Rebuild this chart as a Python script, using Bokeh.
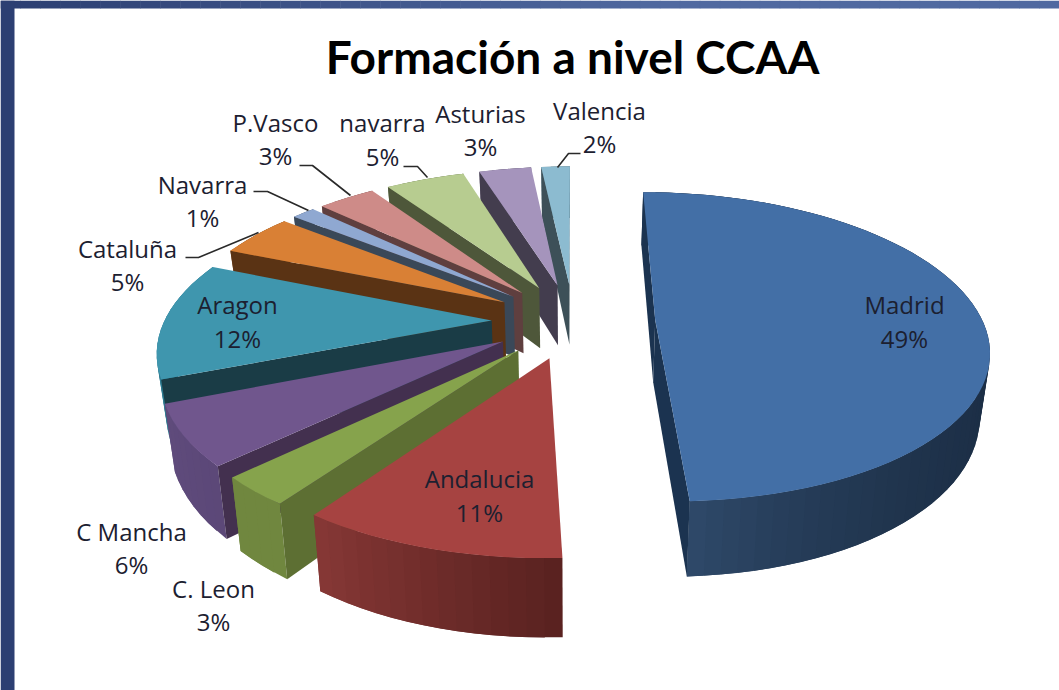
import math
from bokeh.plotting import figure
from bokeh.embed import file_html
from bokeh.resources import INLINE
from bokeh.core.properties import value

# ---- data -------------------------------------------------------------
categories = ["Madrid", "Andalucia", "C. Leon", "C Mancha", "Aragon", "Cataluña",
              "Navarra", "P.Vasco", "navarra", "Asturias", "Valencia"]
shares = [49.3, 10.5, 3.0, 6.2, 12.2, 4.5, 1.4, 3.4, 4.7, 3.1, 1.7]
pct_labels = ["49%", "11%", "3%", "6%", "12%", "5%", "1%", "3%", "5%", "3%", "2%"]
title_text = "Formación a nivel CCAA"

# ---- styles -----------------------------------------------------------
top_colors = ["#436FA6", "#A64341", "#86A34C", "#70568D", "#3F96AE", "#D98035",
              "#8FA8D1", "#CE8B88", "#B7CC90", "#A594BC", "#8CBBD0"]
side_colors = ["#1B3350", "#5F2523", "#5D6F33", "#43304F", "#1A3C46", "#5A3314",
               "#3A4858", "#5F3F3F", "#4E573A", "#433D4E", "#3D5058"]
wall_start = ["#1B2D44", "#5A2220", "#70873F", "#5C4878", "#2E7B90", "#8A5020",
              "#5A6A85", "#835856", "#74825A", "#685E78", "#587885"]
wall_end = ["#2E4868", "#853735", "#70873F", "#5F4B7C", "#2E7B90", "#8A5020",
            "#5A6A85", "#835856", "#74825A", "#685E78", "#587885"]
wall_bias = [6, 1, 1, 1, 1, 1, 1, 1, 1, 1, 1]

# ---- projection of the pie (pixels of the page) ------------------------
VX, VY, F, G, DIST = 573.0, -545.0, 1885.0, 4984.0, 5.76
EXPLODE, DROP, SHRINK = 0.25, 1.072, 0.975


def project(x, yf, low=False):
    d = DIST - yf
    if low:
        return VX + SHRINK * F * x / d, VY + DROP * G / d
    return VX + F * x / d, VY + G / d


def lerp_hex(a, b, t):
    ca = [int(a[i:i + 2], 16) for i in (1, 3, 5)]
    cb = [int(b[i:i + 2], 16) for i in (1, 3, 5)]
    return "#%02x%02x%02x" % tuple(round(u + (v - u) * t) for u, v in zip(ca, cb))


total = sum(shares)
slices, cum = [], 0.0
for i, s in enumerate(shares):
    a0 = cum / total * 2 * math.pi
    cum += s
    a1 = cum / total * 2 * math.pi
    mid = (a0 + a1) / 2
    slices.append((-math.cos(mid), i, a0, a1, EXPLODE * math.sin(mid), -EXPLODE * math.cos(mid)))
slices.sort()

xs, ys, fills = [], [], []


def add(points, colour):
    xs.append([q[0] for q in points])
    ys.append([q[1] for q in points])
    fills.append(colour)


for _, i, a0, a1, ox, oy in slices:
    n = max(3, int(math.degrees(a1 - a0) / 2.5))
    angles = [a0 + (a1 - a0) * k / n for k in range(n + 1)]
    rim = [(ox + math.sin(t), oy - math.cos(t)) for t in angles]
    # curved wall: each band overlaps the next one so no seam shows
    for k in range(n):
        x1, y1 = rim[k]
        x2, y2 = rim[min(n, k + 2)]
        add([project(x1, y1), project(x2, y2), project(x2, y2, True), project(x1, y1, True)],
            lerp_hex(wall_start[i], wall_end[i], (k / max(1, n - 1)) ** wall_bias[i]))
    # flat walls that look towards the viewer
    for (x, y), nx, ny in ((rim[0], -math.cos(a0), -math.sin(a0)), (rim[-1], math.cos(a1), math.sin(a1))):
        if nx * (0 - ox) + ny * (DIST - oy) > 0:
            add([project(ox, oy), project(x, y), project(x, y, True), project(ox, oy, True)], side_colors[i])
    add([project(ox, oy)] + [project(x, y) for x, y in rim], top_colors[i])

# ---- figure ------------------------------------------------------------
p = figure(width=1059, height=690, x_range=(0, 1059), y_range=(690, 0),
           output_backend="svg", toolbar_location=None, min_border=0,
           background_fill_color="white", border_fill_color="white")
p.axis.visible = False
p.grid.visible = False
p.outline_line_color = None

# slide frame
band_n = 53
band_l = [k * 1059 / band_n for k in range(band_n)]
band_r = [(k + 1) * 1059 / band_n + 0.5 for k in range(band_n)]
band_c = [lerp_hex("#2C3F72", "#5069A0", min(1.0, k / (band_n * 0.62))) for k in range(band_n)]
p.quad(left=band_l, right=band_r, top=[0] * band_n, bottom=[8] * band_n, fill_color=band_c, line_color=None)
p.quad(left=[0], right=[14], top=[0], bottom=[690], fill_color="#2C3F72", line_color=None)

p.patches(xs, ys, fill_color=fills, line_color=None)

# leader lines
leader_x = [[580, 568, 557], [403, 417, 427], [299, 312, 350], [253, 267, 308], [185, 198, 258]]
leader_y = [[153, 153, 167], [166, 166, 177], [165, 165, 195], [191, 191, 210], [257, 257, 232]]
p.multi_line(leader_x, leader_y, line_color="#2A2A2A", line_width=1.6)

# labels
name_x = [904, 479, 213, 131, 237, 127, 202, 275, 382, 480, 599]
name_y = [304, 478, 588, 531, 304, 248, 184, 122, 122, 113, 110]
pct_y = [338, 512, 621, 564, 338, 281, 217, 155, 156, 146, 143]
common = dict(text_font=value("Open Sans"), text_font_size="24px", text_color="#1C2030",
              text_align="center", text_baseline="middle")
p.text(name_x, name_y, text=categories, **common)
p.text(name_x, pct_y, text=pct_labels, **common)
p.text([572], [56], text=[title_text], text_font=value("Lato"), text_font_size="46px",
       text_font_style="bold", text_color="#000000", text_align="center", text_baseline="middle")

open("out.html", "w").write(file_html(p, INLINE))
